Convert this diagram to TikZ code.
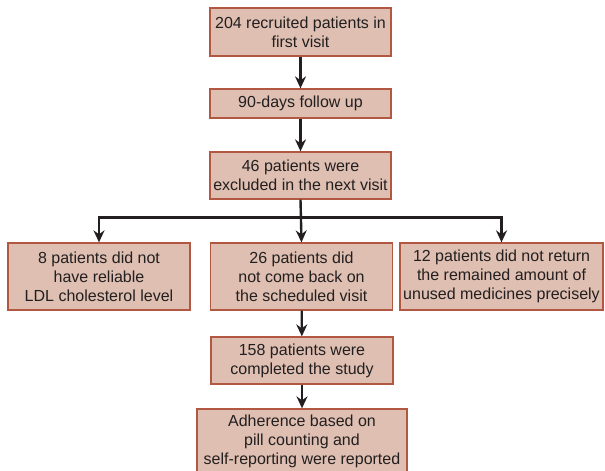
\documentclass[tikz,border=0pt]{standalone}
\usepackage{fontspec}
\setmainfont{Liberation Sans}
\usetikzlibrary{arrows,arrows.meta,shapes}
\usetikzlibrary{positioning}
\definecolor{boxfill}{RGB}{222,191,177}
\definecolor{boxline}{RGB}{178,88,66}
\definecolor{ink}{RGB}{35,31,32}
\tikzstyle{stage} = [draw=boxline, fill=boxfill, line width=1.3pt,
    minimum width=181pt, inner sep=0pt, align=center, text=ink,
    font=\fontsize{16}{19}\selectfont]
\tikzstyle{flow} = [-{Stealth[length=12pt,width=11pt,inset=4pt]}, draw=ink, line width=2.4pt]

\begin{document}
\begin{tikzpicture}[x=1pt, y=-1pt]
  \useasboundingbox (0,0) rectangle (605,471);
  % Place nodes
  \node [stage, minimum height=48pt] (recruit) at (300.5,32)
  {204 recruited patients in\\first visit};
  \node [stage, minimum height=29pt] (follow) at (300.5,103.5)
  {90-days follow up};
  \node [stage, minimum height=47pt] (exclude) at (300.5,175.5)
  {46 patients were\\excluded in the next visit};
  \node [stage, minimum width=182pt, minimum height=67pt] (ldl) at (99,276.5)
  {8 patients did not\\have reliable\\LDL cholesterol level};
  \node [stage, minimum width=182pt, minimum height=67pt] (noback) at (301.5,276.5)
  {26 patients did\\not come back on\\the scheduled visit};
  \node [stage, minimum width=203pt, minimum height=67pt] (noreturn) at (501.5,276.5)
  {12 patients did not return\\the remained amount of\\unused medicines precisely};
  \node [stage, minimum width=182pt, minimum height=47pt] (complete) at (302,360.5)
  {158 patients were\\completed the study};
  \node [stage, minimum width=210pt, minimum height=64pt] (adhere) at (302,441)
  {Adherence based on\\pill counting and\\self-reporting were reported};
  % Draw edges
  \draw [flow] (recruit) -- (follow);
  \draw [flow] (follow) -- (exclude);
  \draw [flow] (exclude.south) -- (noback.north);
  \coordinate [below=18pt of exclude.south] (split);
  \draw [flow] (split) -| (ldl.north);
  \draw [flow] (split) -| (noreturn.north);
  \draw [flow] (noback) -- (complete);
  \draw [flow] (complete) -- (adhere);
\end{tikzpicture}
\end{document}
